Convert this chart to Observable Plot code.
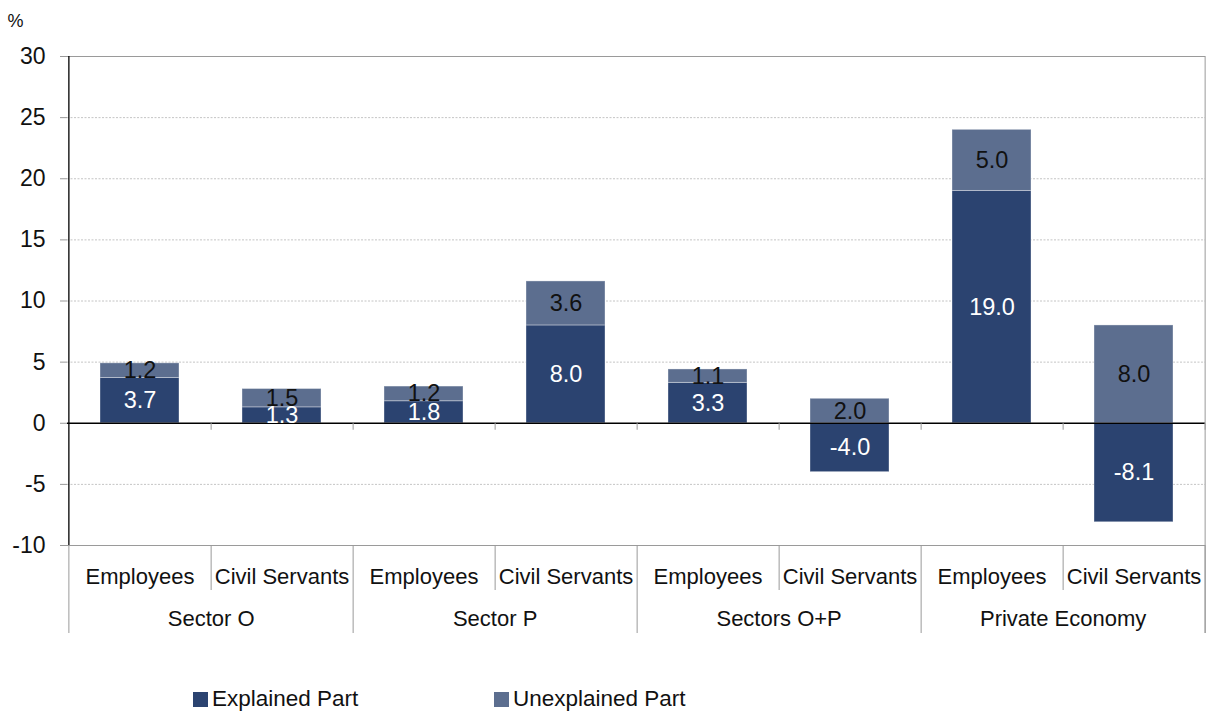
<!DOCTYPE html>
<html>
<head>
<meta charset="utf-8">
<script src="https://cdn.jsdelivr.net/npm/d3@7"></script>
<script src="https://cdn.jsdelivr.net/npm/@observablehq/plot@0.6"></script>
<style>
  body { margin: 0; background: #fff; font-family: "Liberation Sans", Arial, sans-serif; }
  #chart { position: relative; width: 1209px; height: 711px; }
  #chart svg g[aria-label="y-axis tick"] path { stroke: #999; }
  #chart svg g[aria-label="y-axis tick label"] { font-size: 23px; fill: #111; }
  #legend { position: absolute; top: 686px; left: 0; width: 1209px; height: 26px; font-size: 22.5px; color: #111; }
  .item { position: absolute; top: 0; line-height: 26px; white-space: nowrap; }
  .sw { display: inline-block; width: 15px; height: 15px; margin-right: 4px; vertical-align: -1px; }
</style>
</head>
<body>
<div id="chart"></div>
<script>
// ---- data ----
const groups = ["Sector O", "Sector P", "Sectors O+P", "Private Economy"];
const subgroups = ["Employees", "Civil Servants"];
const explained = [3.7, 1.3, 1.8, 8.0, 3.3, -4.0, 19.0, -8.1];
const unexplained = [1.2, 1.5, 1.2, 3.6, 1.1, 2.0, 5.0, 8.0];
const parts = ["Explained Part", "Unexplained Part"];
const partColors = ["#2b4370", "#5c6e8f"];
const yTicks = [-10, -5, 0, 5, 10, 15, 20, 25, 30];
const gridTicks = [-5, 5, 10, 15, 20, 25];

// ---- table built from the arrays ----
const cats = [];
groups.forEach(g => subgroups.forEach(s => cats.push({group: g, sub: s, key: g + "|" + s})));
const rows = [];
cats.forEach((c, i) => rows.push({...c, part: parts[0], value: explained[i]}));
cats.forEach((c, i) => rows.push({...c, part: parts[1], value: unexplained[i]}));
const keys = cats.map(c => c.key);
const empCats = cats.filter(c => c.sub === subgroups[0]);
const civCats = cats.filter(c => c.sub === subgroups[1]);

// ---- layout ----
const W = 1209, H = 660, mL = 67, mR = 4, mT = 56, mB = 115;
const step = (W - mL - mR) / keys.length;

const plot = Plot.plot({
  width: W, height: H,
  marginLeft: mL, marginRight: mR, marginTop: mT, marginBottom: mB,
  style: {fontFamily: '"Liberation Sans", Arial, sans-serif', fontSize: "22px", color: "#111", background: "#fff"},
  x: {domain: keys, paddingInner: 0.445, paddingOuter: 0.2225, axis: null},
  y: {domain: [-10, 30], ticks: yTicks, tickSize: 7, tickPadding: 15, label: null, tickFormat: d => String(d)},
  color: {domain: parts, range: partColors},
  marks: [
    Plot.ruleY(gridTicks, {stroke: "#c4c4c4", strokeDasharray: "2,1.5", strokeWidth: 1}),
    Plot.ruleY([30, -10], {stroke: "#9a9a9a", strokeWidth: 1.2}),
    Plot.barY(rows, Plot.stackY({x: "key", y: "value", z: "part", fill: "part", stroke: "#ffffff", strokeOpacity: 0.35, strokeWidth: 1})),
    Plot.ruleY([0], {stroke: "#000", strokeWidth: 1.5}),
    // small ticks on the zero line at slot boundaries
    Plot.ruleX(cats, {x: "key", dx: step / 2, y1: 0, y2: 0, insetBottom: -7, stroke: "#999"}),
    // left axis line
    Plot.ruleX([cats[0]], {x: "key", dx: -step / 2, y1: 30, y2: -10, stroke: "#000", strokeWidth: 1.3}),
    // right border, extending down as group separator
    Plot.ruleX([cats[cats.length - 1]], {x: "key", dx: step / 2, y1: 30, y2: -10, insetBottom: -88, stroke: "#9a9a9a"}),
    // category separators below the plot
    Plot.ruleX(empCats, {x: "key", dx: step / 2, y1: -10, y2: -10, insetBottom: -45, stroke: "#9a9a9a"}),
    Plot.ruleX(civCats, {x: "key", dx: step / 2, y1: -10, y2: -10, insetBottom: -88, stroke: "#9a9a9a"}),
    Plot.ruleX([cats[0]], {x: "key", dx: -step / 2, y1: -10, y2: -10, insetBottom: -88, stroke: "#9a9a9a"}),
    // value labels
    Plot.text(rows, Plot.stackY({
      x: "key", y: "value", z: "part",
      text: d => d.value.toFixed(1),
      fill: d => d.part === parts[0] ? "#ffffff" : "#111111",
      fontSize: 23.5
    })),
    // category labels
    Plot.text(cats, {x: "key", text: "sub", frameAnchor: "bottom", lineAnchor: "middle", dy: 31, fontSize: 22, fill: "#111"}),
    Plot.text(empCats, {x: "key", text: "group", frameAnchor: "bottom", lineAnchor: "middle", dx: step / 2, dy: 73, fontSize: 22, fill: "#111"}),
    // unit label
    Plot.text(["%"], {text: d => d, frameAnchor: "top-left", lineAnchor: "middle", dx: -60, dy: -35, textAnchor: "start", fontSize: 18, fill: "#111"})
  ]
});
document.getElementById("chart").appendChild(plot);

// legend
const legend = document.createElement("div");
legend.id = "legend";
const legendX = [193, 494];
parts.forEach((p, i) => {
  const it = document.createElement("div");
  it.className = "item";
  it.style.left = legendX[i] + "px";
  it.innerHTML = `<span class="sw" style="background:${partColors[i]}"></span>${p}`;
  legend.appendChild(it);
});
document.getElementById("chart").appendChild(legend);
</script>
</body>
</html>
